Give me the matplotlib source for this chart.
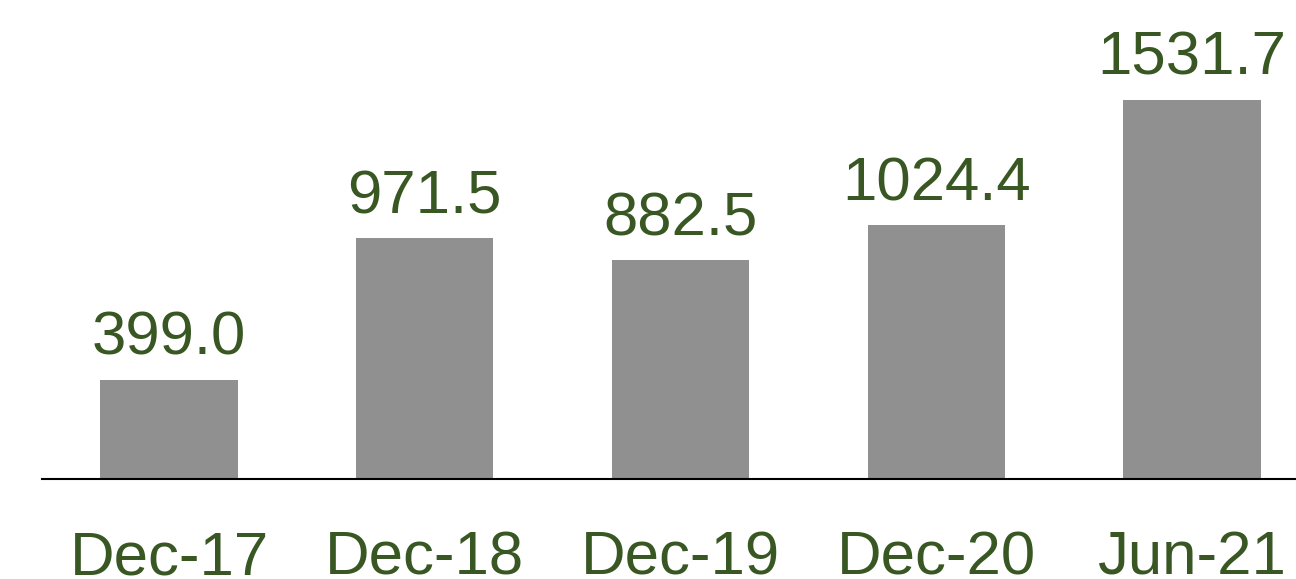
import matplotlib.pyplot as plt

categories = ['Dec-17', 'Dec-18', 'Dec-19', 'Dec-20', 'Jun-21']
values = [399.0, 971.5, 882.5, 1024.4, 1531.7]

bar_color = '#909090'
text_color = '#385723'

plt.rcParams['font.family'] = ['Liberation Sans', 'DejaVu Sans']

fig = plt.figure(figsize=(12.96, 5.79), dpi=100)
ax = fig.add_axes([42 / 1296, 100.5 / 579, 1 - 42 / 1296, 478.5 / 579])

x = range(len(categories))
bars = ax.bar(x, values, width=0.537, color=bar_color)

# value labels above bars
for xi, v in zip(x, values):
    ax.annotate(f'{v:.1f}', (xi, v), xytext=(0, 18), textcoords='offset points',
                ha='center', va='baseline', fontsize=44.5, color=text_color)

ax.set_xlim(-0.4966, 4.4067)
ax.set_ylim(0, 1935.6)

ax.set_xticks(list(x))
ax.set_xticklabels(categories, fontsize=44.5, color=text_color)
ax.tick_params(axis='x', length=0, pad=68.8)
plt.setp(ax.get_xticklabels(), va='baseline')
ax.set_yticks([])

for side in ['top', 'left', 'right']:
    ax.spines[side].set_visible(False)
ax.spines['bottom'].set_linewidth(1.5)
ax.spines['bottom'].set_color('black')

fig.savefig('out.png', dpi=100)
